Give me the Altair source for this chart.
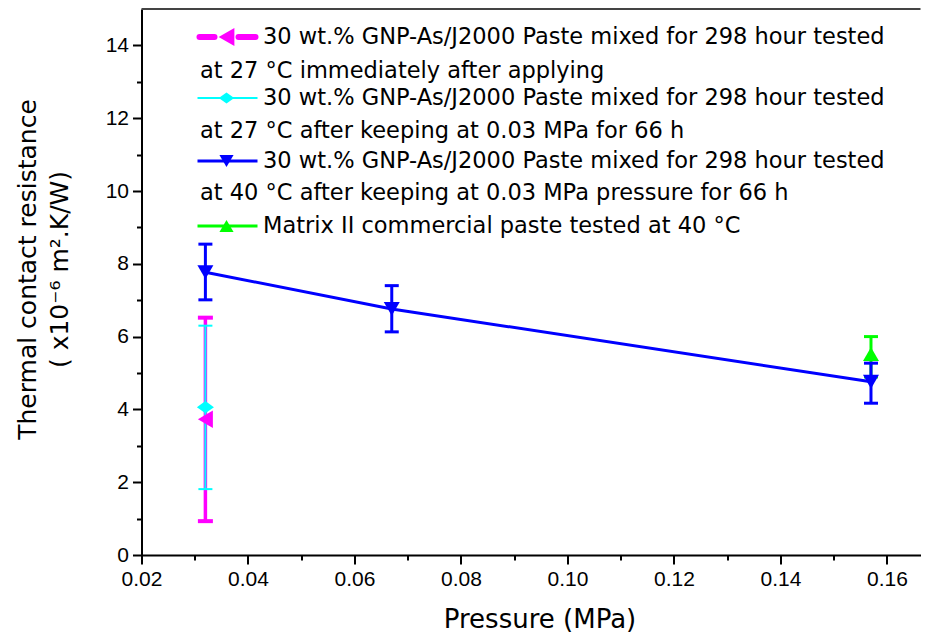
import altair as alt
import pandas as pd

# ---- data ----
pink_x = [0.032]
pink_y = [3.73]
pink_lo = [0.93]
pink_hi = [6.52]

cyan_x = [0.032]
cyan_y = [4.06]
cyan_lo = [1.81]
cyan_hi = [6.30]

blue_x = [0.032, 0.067, 0.157]
blue_y = [7.77, 6.76, 4.76]
blue_lo = [7.01, 6.13, 4.17]
blue_hi = [8.54, 7.40, 5.27]

green_x = [0.157]
green_y = [5.52]
green_lo = [4.89]
green_hi = [6.00]

x_ticks = [0.02, 0.03, 0.04, 0.05, 0.06, 0.07, 0.08, 0.09, 0.10, 0.11, 0.12, 0.13, 0.14, 0.15, 0.16]
y_ticks = list(range(0, 15))

legend_line1 = "30 wt.% GNP-As/J2000 Paste mixed for 298 hour tested"
legend_texts = [
    "at 27 °C immediately after applying",
    "at 27 °C after keeping at 0.03 MPa for 66 h",
    "at 40 °C after keeping at 0.03 MPa pressure for 66 h",
    "Matrix II commercial paste tested at 40 °C",
]

PINK = "#ff00ff"
CYAN = "#00ffff"
BLUE = "#0000ff"
GREEN = "#00ff00"
FONT = "Liberation Sans"
WIDE = "DejaVu Sans"

W = 779
H = 546


def df(x, y, lo, hi):
    return pd.DataFrame({"x": x, "y": y, "lo": lo, "hi": hi})


pink = df(pink_x, pink_y, pink_lo, pink_hi)
cyan = df(cyan_x, cyan_y, cyan_lo, cyan_hi)
blue = df(blue_x, blue_y, blue_lo, blue_hi)
green = df(green_x, green_y, green_lo, green_hi)

xscale = alt.Scale(domain=[0.02, 0.1663], nice=False, zero=False)
yscale = alt.Scale(domain=[0, 15], nice=False, zero=True)

xaxis = alt.Axis(
    values=x_ticks,
    labelExpr="round(datum.value*100) % 2 == 0 ? format(datum.value, '.2f') : ''",
    tickSize={"condition": {"test": "round(datum.value*100) % 2 == 1", "value": 5}, "value": 9},
    title="Pressure (MPa)",
    titlePadding=17,
    titleX=398,
    grid=False,
)
yaxis = alt.Axis(
    values=y_ticks,
    labelExpr="datum.value % 2 == 0 ? datum.label : ''",
    tickSize={"condition": {"test": "datum.value % 2 == 1", "value": 5}, "value": 9},
    title=["Thermal contact resistance", "( x10\u207b\u2076 m\u00b2.K/W)"],
    titlePadding=33,
    titleY=260,
    titleFontSize=25,
    grid=False,
)


def X():
    return alt.X("x:Q", scale=xscale, axis=xaxis)


def errbars(data, color, w, capw, capt):
    bars = alt.Chart(data).mark_rule(color=color, strokeWidth=w).encode(
        x=X(), y=alt.Y("lo:Q", scale=yscale, axis=yaxis), y2="hi:Q"
    )
    cap_lo = alt.Chart(data).mark_tick(color=color, orient="horizontal", size=capw, thickness=capt, opacity=1).encode(
        x=X(), y=alt.Y("lo:Q", scale=yscale, axis=yaxis)
    )
    cap_hi = alt.Chart(data).mark_tick(color=color, orient="horizontal", size=capw, thickness=capt, opacity=1).encode(
        x=X(), y=alt.Y("hi:Q", scale=yscale, axis=yaxis)
    )
    return [bars, cap_lo, cap_hi]


def markers(data, color, shape, size):
    return alt.Chart(data).mark_point(shape=shape, filled=True, color=color, size=size, opacity=1).encode(
        x=X(), y=alt.Y("y:Q", scale=yscale, axis=yaxis)
    )


blue_line = alt.Chart(blue).mark_line(color=BLUE, strokeWidth=3).encode(
    x=X(), y=alt.Y("y:Q", scale=yscale, axis=yaxis)
)

DIAMOND = "M-1,0L0,-0.72L1,0L0,0.72Z"

layers = []
layers += errbars(pink, PINK, 3.5, 15, 4)
layers += errbars(cyan, CYAN, 2, 14, 2)
layers += [blue_line]
layers += errbars(green, GREEN, 3, 14, 3)
layers += errbars(blue, BLUE, 3, 14, 3)
layers += [
    markers(pink, PINK, "triangle-left", 300),
    markers(cyan, CYAN, DIAMOND, 290),
    markers(green, GREEN, "triangle-up", 256),
    markers(blue, BLUE, "triangle-down", 256),
]

# ---- legend (drawn by hand, positions in pixels of the plot area) ----
dummy = pd.DataFrame({"a": [0]})


def hline(x1, x2, y, color, w, cap="butt"):
    return alt.Chart(dummy).mark_rule(color=color, strokeWidth=w, strokeCap=cap).encode(
        x=alt.value(x1), x2=alt.value(x2), y=alt.value(y)
    )


def sym(x, y, color, shape, size):
    return alt.Chart(dummy).mark_point(shape=shape, filled=True, color=color, size=size, opacity=1).encode(
        x=alt.value(x), y=alt.value(y)
    )


def txt(x, y, s):
    return alt.Chart(dummy).mark_text(
        text=s, align="left", baseline="middle", fontSize=22.5, font=WIDE, color="black"
    ).encode(x=alt.value(x), y=alt.value(y))


LX1, LX2, LXC, TX1, TX2 = 56, 116, 85, 121.5, 58.5
rows = [(28, 62), (89, 122), (152, 184), (217, None)]

legend = []
# entry 1 (pink, dashed thick line with left triangle)
legend += [hline(LX1 + 2, 73, rows[0][0], PINK, 6, "round"), hline(97, LX2 - 2, rows[0][0], PINK, 6, "round"),
           sym(LXC, rows[0][0], PINK, "triangle-left", 330)]
# entry 2 (cyan)
legend += [hline(LX1, LX2, rows[1][0], CYAN, 2), sym(LXC, rows[1][0], CYAN, DIAMOND, 240)]
# entry 3 (blue)
legend += [hline(LX1, LX2, rows[2][0], BLUE, 3), sym(LXC, rows[2][0], BLUE, "triangle-down", 200)]
# entry 4 (green)
legend += [hline(LX1, LX2, rows[3][0], GREEN, 3), sym(LXC, rows[3][0], GREEN, "triangle-up", 200)]

for i in range(3):
    legend.append(txt(TX1, rows[i][0], legend_line1))
    legend.append(txt(TX2, rows[i][1], legend_texts[i]))
legend.append(txt(TX1, rows[3][0], legend_texts[3]))

top_border = alt.Chart(dummy).mark_rule(color="#444444", strokeWidth=2).encode(
    x=alt.value(0), x2=alt.value(W), y=alt.value(0)
)

chart = alt.layer(top_border, *layers, *legend).properties(
    width=W,
    height=H,
    padding={"left": 133.5, "top": 1, "right": 0, "bottom": 80},
    autosize=alt.AutoSizeParams(type="none"),
).configure_view(stroke=None).configure_axis(
    domainColor="black",
    domainWidth=2,
    tickColor="black",
    tickWidth=2,
    labelFont=FONT,
    labelFontSize=21,
    labelColor="black",
    labelPadding=4,
    titleFont=WIDE,
    titleFontSize=26,
    titleFontWeight="normal",
    titleColor="black",
    titleLineHeight=32,
).configure_axisX(labelFlush=False)

chart.save("out.html", embed_options={"renderer": "svg", "actions": False})
